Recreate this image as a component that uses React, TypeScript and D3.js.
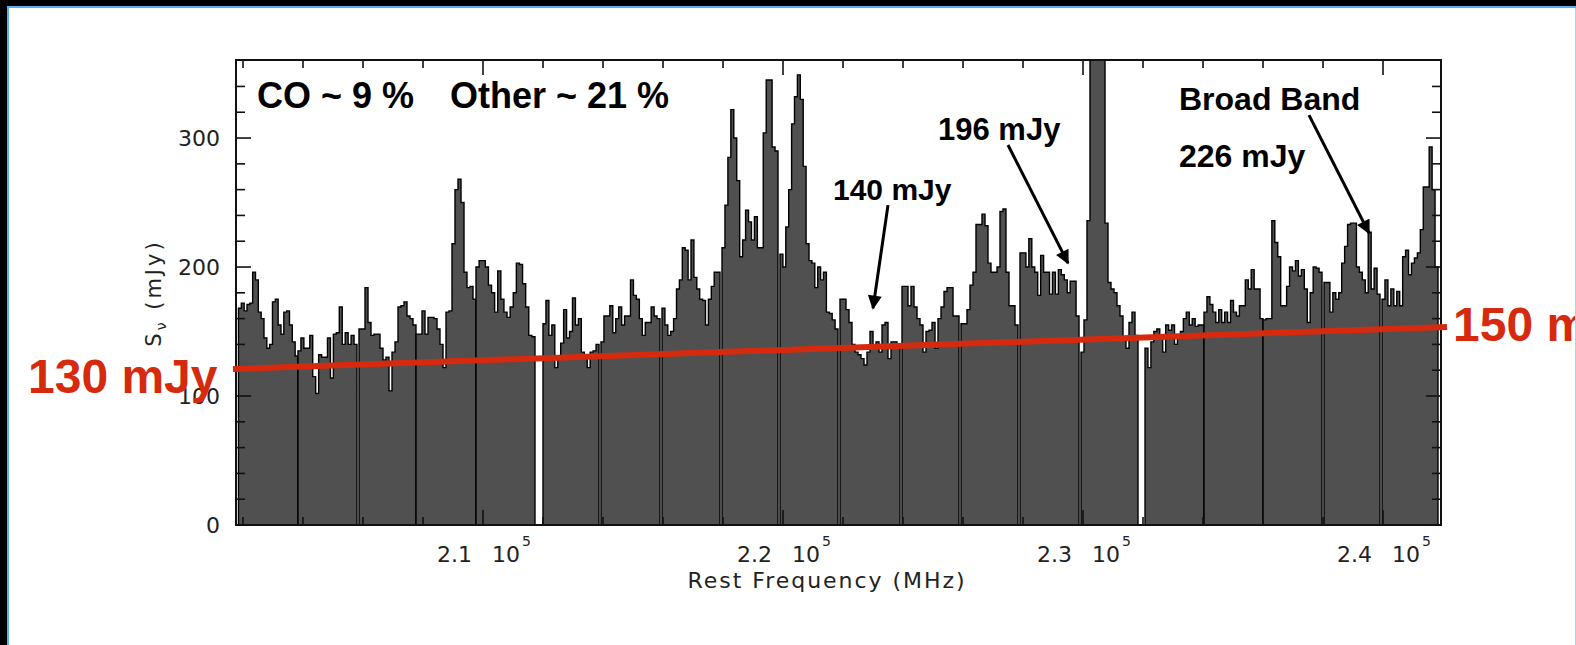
import React from "react";
import * as d3 from "d3";

// Spectral windows (MHz)
const segStarts = [201850, 203833, 205867, 207767, 209767, 212000, 213933, 215967, 217967, 219900, 221900, 223967, 225933, 227900, 229933, 232067, 234033, 236000, 238033, 239967];
const segEnds = [203833, 205800, 207767, 209767, 211733, 213867, 215900, 217900, 219833, 221833, 223900, 225867, 227833, 229867, 231833, 234033, 236000, 237967, 239900, 241833];

// Flux density per channel (mJy), one array per window
const seg01 = [168, 172, 166, 171, 172, 196, 190, 165, 160, 145, 137, 140, 173, 175, 155, 148, 165, 166, 155, 142, 131];
const seg02 = [135, 145, 137, 137, 147, 115, 102, 132, 130, 130, 145, 114, 148, 149, 169, 140, 149, 140, 147, 140];
const seg03 = [152, 152, 184, 157, 147, 148, 148, 137, 128, 130, 104, 134, 142, 169, 170, 173, 162, 160, 155];
const seg04 = [148, 148, 166, 148, 161, 161, 160, 152, 140, 122, 165, 166, 218, 260, 268, 250, 196, 184, 185, 175];
const seg05 = [200, 205, 205, 200, 186, 180, 165, 197, 175, 165, 161, 169, 180, 203, 202, 187, 169, 147, 146];
const seg06 = [156, 174, 147, 155, 122, 129, 141, 167, 145, 150, 176, 155, 160, 134, 130, 122, 134, 135, 140];
const seg07 = [142, 162, 162, 170, 149, 160, 169, 155, 162, 162, 190, 178, 175, 160, 147, 157, 157, 169, 162, 160];
const seg08 = [168, 155, 147, 150, 160, 183, 190, 215, 213, 190, 221, 192, 183, 175, 174, 155, 175, 185, 196, 196];
const seg09 = [215, 248, 285, 322, 300, 267, 208, 221, 244, 235, 221, 239, 215, 215, 304, 345, 345, 293, 290];
const seg10 = [210, 200, 231, 260, 311, 332, 349, 330, 278, 218, 205, 203, 184, 200, 190, 196, 165, 164, 159, 152];
const seg11 = [175, 175, 167, 157, 140, 134, 132, 129, 124, 134, 150, 137, 142, 134, 155, 157, 129, 142, 142, 140];
const seg12 = [185, 185, 170, 185, 169, 160, 155, 134, 150, 151, 157, 137, 160, 169, 181, 184, 184, 162, 162];
const seg13 = [156, 156, 167, 186, 196, 233, 233, 241, 232, 203, 196, 196, 200, 243, 245, 196, 170, 170, 155];
const seg14 = [211, 211, 200, 222, 200, 196, 178, 209, 196, 196, 179, 196, 179, 198, 194, 190, 180, 189, 189, 162];
const seg15 = [134, 159, 236, 520, 640, 700, 660, 520, 234, 188, 183, 180, 170, 162, 144, 137, 157, 165, 147];
const seg16 = [137, 122, 142, 150, 152, 147, 134, 155, 151, 155, 140, 147, 150, 160, 165, 155, 160, 154, 155, 155];
const seg17 = [165, 177, 171, 165, 157, 167, 157, 165, 157, 174, 165, 162, 170, 170, 190, 183, 198, 183, 183, 160];
const seg18 = [159, 160, 160, 236, 219, 208, 170, 170, 185, 200, 197, 205, 193, 198, 183, 157, 180, 200, 199, 196];
const seg19 = [188, 188, 165, 180, 175, 180, 203, 216, 233, 234, 234, 200, 196, 190, 180, 227, 183, 199, 179];
const seg20 = [175, 190, 170, 183, 170, 181, 170, 208, 213, 194, 203, 207, 211, 229, 262, 262, 293, 260, 200];
const segValues = [seg01, seg02, seg03, seg04, seg05, seg06, seg07, seg08, seg09, seg10, seg11, seg12, seg13, seg14, seg15, seg16, seg17, seg18, seg19, seg20];

// Axes
const xDomain = [201767, 241933];
const yDomain = [0, 360.5];
const xMajorTicks = [210000, 220000, 230000, 240000];
const xMajorLabels = ["2.1", "2.2", "2.3", "2.4"];
const yMajorTicks = [0, 100, 200, 300];
const yTickLabels = ["0", "100", "200", "300"];

// Continuum level line (MHz, mJy)
const contFreq = [201667, 242133];
const contFlux = [121, 153.5];

// Annotations
const notes = [
  { text: "CO ~ 9 %", f: 202467, v: 323.3, size: 36 },
  { text: "Other ~ 21 %", f: 208900, v: 323.3, size: 36 },
  { text: "140 mJy", f: 221667, v: 252, size: 30 },
  { text: "196 mJy", f: 225167, v: 298.4, size: 31 },
  { text: "Broad Band", f: 233200, v: 321.7, size: 32 },
  { text: "226 mJy", f: 233200, v: 277.5, size: 32 },
];
const arrows = [
  { f0: 223500, v0: 248, f1: 223000, v1: 168 },
  { f0: 227500, v0: 294.6, f1: 229500, v1: 203 },
  { f0: 237533, v0: 317.8, f1: 239533, v1: 226.4 },
];

export default function App() {
  const W = 1576;
  const H = 645;
  const L = 236, R = 1441, T = 60, B = 525;
  const x = d3.scaleLinear().domain(xDomain).range([L, R]);
  const y = d3.scaleLinear().domain(yDomain).range([B, T]);

  const area = d3
    .area<[number, number]>()
    .x((d) => x(d[0]))
    .y0(y(0))
    .y1((d) => y(d[1]))
    .curve(d3.curveStepAfter);

  const paths = segValues.map((vals, i) => {
    const s = segStarts[i];
    const e = segEnds[i];
    const w = (e - s) / vals.length;
    const pts: [number, number][] = vals.map((v, j) => [s + j * w, v]);
    pts.push([e, vals[vals.length - 1]]);
    return area(pts) as string;
  });

  const xMinor = d3.range(202000, xDomain[1], 2000);
  const yMinor = d3.range(0, 360, 20);
  const tickFont = "'DejaVu Sans', 'Liberation Sans', sans-serif";
  const boldFont = "'Liberation Sans', Arial, sans-serif";
  const red = "#d62a0e";

  return (
    <svg
      width={W}
      height={H}
      style={{ position: "absolute", left: 0, top: 0, display: "block", background: "#fff" }}
    >
      <defs>
        <clipPath id="plotClip">
          <rect x={L} y={T} width={R - L} height={B - T} />
        </clipPath>
        <marker
          id="ah"
          viewBox="0 0 10 10"
          refX={9}
          refY={5}
          markerWidth={15}
          markerHeight={14}
          markerUnits="userSpaceOnUse"
          orient="auto"
        >
          <path d="M0,0 L10,5 L0,10 z" fill="#000" />
        </marker>
      </defs>
      <rect x={0} y={0} width={W} height={H} fill="#fff" />

      {/* spectrum */}
      <g clipPath="url(#plotClip)">
        {paths.map((d, i) => (
          <path key={i} d={d} fill="#505050" stroke="#000" strokeWidth={1.4} strokeLinejoin="miter" />
        ))}
      </g>

      {/* frame */}
      <rect x={L} y={T} width={R - L} height={B - T} fill="none" stroke="#111" strokeWidth={2} />

      {/* x ticks */}
      {xMinor.map((f) => {
        const major = xMajorTicks.includes(f);
        const len = major ? 15 : 8;
        return (
          <g key={"xt" + f} stroke="#111" strokeWidth={1.6}>
            <line x1={x(f)} x2={x(f)} y1={T} y2={T + len} />
            <line x1={x(f)} x2={x(f)} y1={B} y2={B - len} />
          </g>
        );
      })}
      {/* y ticks */}
      {yMinor.map((v) => {
        const major = yMajorTicks.includes(v);
        const len = major ? 15 : 9;
        return (
          <g key={"yt" + v} stroke="#111" strokeWidth={1.6}>
            <line x1={L} x2={L + len} y1={y(v)} y2={y(v)} />
            <line x1={R} x2={R - len} y1={y(v)} y2={y(v)} />
          </g>
        );
      })}

      {/* y tick labels */}
      {yMajorTicks.map((v, i) => (
        <text
          key={"yl" + v}
          x={220}
          y={y(v) + 8}
          textAnchor="end"
          fontFamily={tickFont}
          fontSize={22}
          fill="#222"
        >
          {yTickLabels[i]}
        </text>
      ))}

      {/* x tick labels */}
      {xMajorTicks.map((f, i) => (
        <g key={"xl" + f} fontFamily={tickFont} fill="#222">
          <text x={x(f) - 46} y={562} fontSize={22}>
            {xMajorLabels[i]}
          </text>
          <text x={x(f) + 9} y={562} fontSize={22}>
            10
          </text>
          <text x={x(f) + 39} y={546} fontSize={14}>
            5
          </text>
        </g>
      ))}

      {/* axis titles */}
      <text
        x={826}
        y={588}
        textAnchor="middle"
        fontFamily={tickFont}
        fontSize={22}
        fill="#222"
        textLength={277}
        lengthAdjust="spacing"
      >
        Rest Frequency (MHz)
      </text>
      <text
        transform="translate(161,293) rotate(-90)"
        textAnchor="middle"
        fontFamily={tickFont}
        fontSize={21}
        fill="#222"
        letterSpacing={3}
      >
        S<tspan fontSize={14} dy={5}>ν</tspan>
        <tspan dy={-5}> (mJy)</tspan>
      </text>

      {/* continuum line */}
      <line
        x1={x(contFreq[0])}
        y1={y(contFlux[0])}
        x2={x(contFreq[1])}
        y2={y(contFlux[1])}
        stroke={red}
        strokeWidth={6}
      />
      <text x={28} y={393} fontFamily={boldFont} fontWeight="bold" fontSize={48} fill={red}>
        130 mJy
      </text>
      <text x={1453} y={341} fontFamily={boldFont} fontWeight="bold" fontSize={48} fill={red}>
        150 mJy
      </text>

      {/* annotations */}
      {notes.map((n) => (
        <text
          key={n.text}
          x={x(n.f)}
          y={y(n.v)}
          fontFamily={boldFont}
          fontWeight="bold"
          fontSize={n.size}
          fill="#000"
        >
          {n.text}
        </text>
      ))}
      {arrows.map((a, i) => (
        <line
          key={"ar" + i}
          x1={x(a.f0)}
          y1={y(a.v0)}
          x2={x(a.f1)}
          y2={y(a.v1)}
          stroke="#000"
          strokeWidth={3}
          markerEnd="url(#ah)"
        />
      ))}

      {/* outer border */}
      <rect x={0} y={0} width={W} height={6} fill="#000" />
      <rect x={0} y={0} width={7} height={H} fill="#000" />
      <rect x={7} y={6} width={W - 7} height={2} fill="#5aaef0" />
      <rect x={7} y={6} width={2} height={H - 6} fill="#5aaef0" />
      <rect x={W - 1} y={8} width={1} height={H - 8} fill="#a8d4f5" />
    </svg>
  );
}
